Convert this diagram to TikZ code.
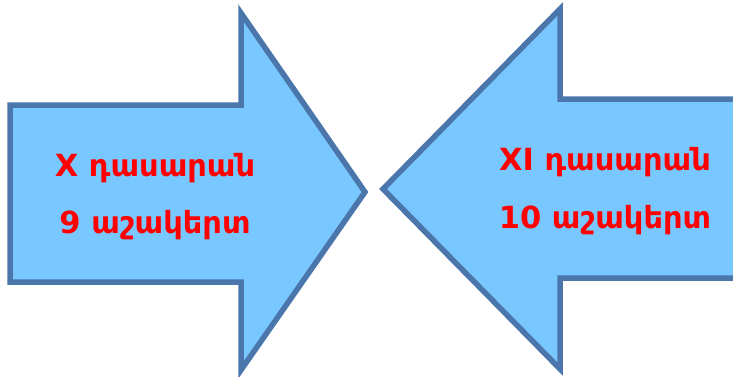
\documentclass[tikz,border=0pt]{standalone}
\usepackage{fontspec}
\newfontfamily\armfont{DejaVu Sans}
\definecolor{arrowfill}{RGB}{121,199,255}
\definecolor{arrowline}{RGB}{74,118,172}
\definecolor{txtred}{RGB}{255,0,0}
\tikzset{
  arrowshape/.style={fill=arrowfill, draw=arrowline, line width=5.5pt, line join=miter},
  label/.style={text=txtred, font=\armfont\bfseries\fontsize{30.5}{33}\selectfont, anchor=base, inner sep=0pt}
}
\begin{document}
\begin{tikzpicture}[x=1pt,y=-1pt]
\useasboundingbox (0,0) rectangle (733,376);
\clip (0,0) rectangle (733,376);
% left arrow pointing right
\draw[arrowshape] (10,105) -- (241,105) -- (241,13) -- (365,192) -- (241,370) -- (241,282) -- (10,282) -- cycle;
% right arrow pointing left
\draw[arrowshape] (745,99) -- (560,99) -- (560,9) -- (383,189) -- (560,369) -- (560,278) -- (745,278) -- cycle;
\node[label] (l1) at (155,176) {X դասարան};
\node[label] (l2) at (155,233) {9 աշակերտ};
\node[label] (r1) at (605,170) {XI դասարան};
\node[label] (r2) at (605,228) {10 աշակերտ};
\end{tikzpicture}
\end{document}
